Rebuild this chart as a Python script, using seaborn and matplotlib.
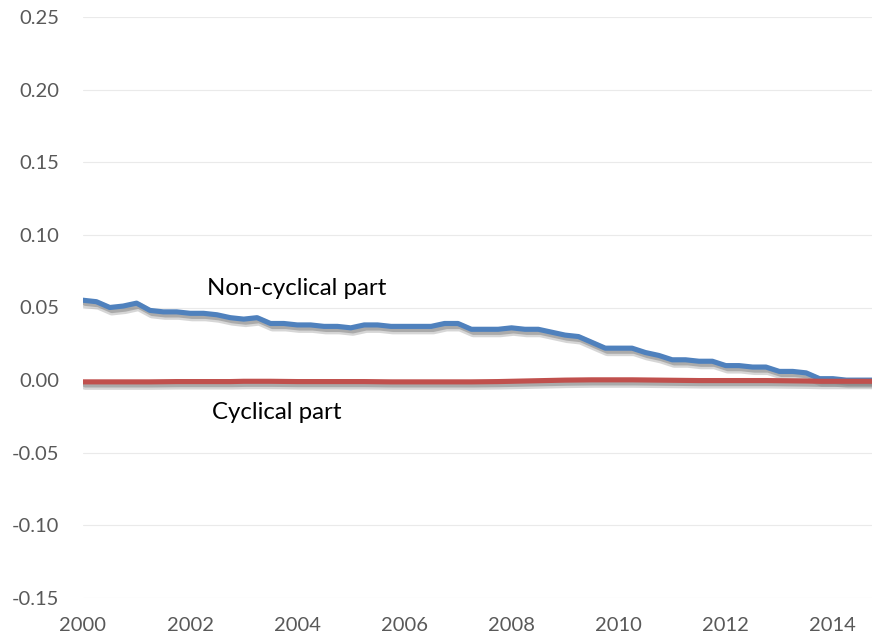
import numpy as np
import pandas as pd
import matplotlib
matplotlib.use("Agg")
import matplotlib.pyplot as plt
import matplotlib.patheffects as pe
import seaborn as sns

# Quarterly observations, 2000Q1 .. 2014Q4
quarters = [f"{y}Q{q}" for y in range(2000, 2015) for q in range(1, 5)]

non_cyclical = [0.055, 0.054, 0.050, 0.051, 0.053, 0.048, 0.047, 0.047,
                0.046, 0.046, 0.045, 0.043, 0.042, 0.043, 0.039, 0.039,
                0.038, 0.038, 0.037, 0.037, 0.036, 0.038, 0.038, 0.037,
                0.037, 0.037, 0.037, 0.039, 0.039, 0.035, 0.035, 0.035,
                0.036, 0.035, 0.035, 0.033, 0.031, 0.030, 0.026, 0.022,
                0.022, 0.022, 0.019, 0.017, 0.014, 0.014, 0.013, 0.013,
                0.010, 0.010, 0.009, 0.009, 0.006, 0.006, 0.005, 0.001,
                0.001, 0.000, 0.000, 0.000]

cyclical = [-0.0012, -0.0012, -0.0012, -0.0012, -0.0012, -0.0012, -0.0011, -0.0010,
            -0.0010, -0.0010, -0.0010, -0.0010, -0.0008, -0.0008, -0.0008, -0.0009,
            -0.0010, -0.0010, -0.0010, -0.0010, -0.0010, -0.0010, -0.0011, -0.0012,
            -0.0012, -0.0012, -0.0012, -0.0012, -0.0012, -0.0012, -0.0011, -0.0010,
            -0.0008, -0.0006, -0.0004, -0.0002, 0.0000, 0.0001, 0.0002, 0.0002,
            0.0002, 0.0002, 0.0001, 0.0000, -0.0001, -0.0002, -0.0003, -0.0003,
            -0.0003, -0.0003, -0.0003, -0.0003, -0.0004, -0.0005, -0.0006, -0.0008,
            -0.0008, -0.0008, -0.0008, -0.0008]

y_ticks = [-0.15, -0.10, -0.05, 0.00, 0.05, 0.10, 0.15, 0.20, 0.25]
x_ticks = [2000, 2002, 2004, 2006, 2008, 2010, 2012, 2014]

def to_year(q):
    y, n = q.split("Q")
    return int(y) + (int(n) - 1) / 4

df = pd.DataFrame({
    "time": [to_year(q) for q in quarters] * 2,
    "value": non_cyclical + cyclical,
    "series": ["Non-cyclical part"] * len(quarters) + ["Cyclical part"] * len(quarters),
})

sns.set_theme(style="white")
plt.rcParams["font.family"] = ["Lato", "DejaVu Sans"]

fig = plt.figure(figsize=(8.72, 6.4), dpi=100)
ax = fig.add_axes([83 / 872, 42 / 640, 1 - 83 / 872, (598 - 17) / 640])

shadow = [pe.SimpleLineShadow(offset=(1.5, -2.5), shadow_color="#8c8c8c", alpha=0.35, linewidth=6.5),
          pe.SimpleLineShadow(offset=(1.5, -2.2), shadow_color="#7f7f7f", alpha=0.5),
          pe.Normal()]

sns.lineplot(data=df, x="time", y="value", hue="series",
             palette={"Non-cyclical part": "#4F81BD", "Cyclical part": "#C0504D"},
             linewidth=3.7, legend=False, ax=ax)
for ln in ax.get_lines():
    ln.set_path_effects(shadow)
    ln.set_solid_capstyle("round")
    ln.set_solid_joinstyle("round")

ax.set_xlim(2000, 2014.73)
ax.set_ylim(-0.15, 0.25)
ax.set_yticks(y_ticks)
ax.set_yticklabels([f"{v:.2f}" for v in y_ticks])
ax.set_xticks(x_ticks)
ax.set_xticklabels([str(v) for v in x_ticks])
ax.tick_params(axis="both", length=0, labelsize=14.5, colors="#595959")
ax.tick_params(axis="x", pad=14)
ax.tick_params(axis="y", pad=17)
ax.grid(axis="y", color="#EAEAEA", linewidth=0.8)
ax.grid(axis="x", visible=False)
for s in ax.spines.values():
    s.set_visible(False)
ax.set_xlabel("")
ax.set_ylabel("")

ax.text(2002.32, 0.0630, "Non-cyclical part", fontsize=17.3, color="#000000", ha="left", va="center")
ax.text(2002.40, -0.0225, "Cyclical part", fontsize=17.3, color="#000000", ha="left", va="center")

fig.savefig("out.png", dpi=100)
